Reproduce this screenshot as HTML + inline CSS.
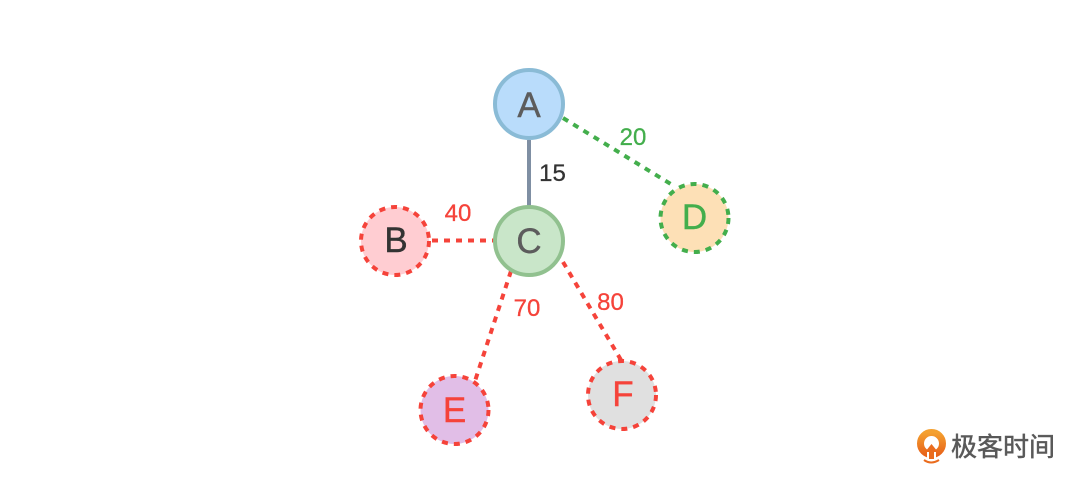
<!DOCTYPE html>
<html>
<head>
<meta charset="utf-8">
<style>
html,body{margin:0;padding:0;background:#fff;width:1084px;height:495px;overflow:hidden}
svg{display:block}
text{font-family:"Liberation Sans",Arial,sans-serif}
</style>
</head>
<body>
<svg width="1084" height="495" viewBox="0 0 1084 495" xmlns="http://www.w3.org/2000/svg">
<defs>
<linearGradient id="g" x1="0" y1="0" x2="0" y2="1"><stop offset="0" stop-color="#f4a02f"/><stop offset="1" stop-color="#e8641b"/></linearGradient>
</defs>
<rect width="1084" height="495" fill="#fff"/>
<!-- edges -->
<line x1="529" y1="140" x2="529" y2="206" stroke="#7f8fa3" stroke-width="4"/>
<line x1="563" y1="118" x2="674" y2="186" stroke="#43ae4c" stroke-width="4" stroke-dasharray="6 6"/>
<line x1="432" y1="240.500" x2="495" y2="240.500" stroke="#f5433a" stroke-width="4" stroke-dasharray="6 6"/>
<line x1="511" y1="271" x2="475" y2="381" stroke="#f5433a" stroke-width="4" stroke-dasharray="6 6"/>
<line x1="563" y1="262" x2="621" y2="360" stroke="#f5433a" stroke-width="4" stroke-dasharray="6 6"/>
<!-- nodes -->
<circle cx="529" cy="104" r="34" fill="#b9dcfb" stroke="#8abbd6" stroke-width="4"/>
<circle cx="529" cy="241" r="34" fill="#c9e6c9" stroke="#91c18f" stroke-width="4"/>
<circle cx="395" cy="241" r="34" fill="#ffcdd2" stroke="#f5433a" stroke-width="4" stroke-dasharray="6 6"/>
<circle cx="694.500" cy="218" r="34" fill="#fde0b6" stroke="#43ae4c" stroke-width="4" stroke-dasharray="6 6"/>
<circle cx="454.500" cy="410" r="34" fill="#e1bee7" stroke="#f5433a" stroke-width="4" stroke-dasharray="6 6"/>
<circle cx="622" cy="395" r="34" fill="#e0e0e0" stroke="#f5433a" stroke-width="4" stroke-dasharray="6 6"/>
<!-- node labels -->
<g font-size="35" text-anchor="middle" stroke-width="0.4">
<text x="529" y="117" fill="#5c5c5c" stroke="#5c5c5c">A</text>
<text x="529" y="253" fill="#5c5c5c" stroke="#5c5c5c">C</text>
<text x="396" y="252" fill="#333" stroke="#333">B</text>
<text x="694.500" y="229" fill="#43ae4c" stroke="#43ae4c">D</text>
<text x="454.500" y="422" fill="#f5433a" stroke="#f5433a">E</text>
<text x="623" y="406" fill="#f5433a" stroke="#f5433a">F</text>
</g>
<!-- edge labels -->
<g font-size="24" text-anchor="middle" stroke-width="0.3">
<text x="552.500" y="181" fill="#333" stroke="#333">15</text>
<text x="633" y="145" fill="#43ae4c" stroke="#43ae4c">20</text>
<text x="458" y="221" fill="#f5433a" stroke="#f5433a">40</text>
<text x="527" y="316" fill="#f5433a" stroke="#f5433a">70</text>
<text x="610.500" y="310" fill="#f5433a" stroke="#f5433a">80</text>
</g>
<!-- logo -->
<circle cx="931.500" cy="443.500" r="11" fill="none" stroke="url(#g)" stroke-width="7"/>
<rect x="927" y="450" width="9" height="9" fill="#fff"/>
<path d="M931.500 444 L925 452 L929 452 L929 459 L934 459 L934 452 L938 452 Z" fill="#ea6c1e"/>
<path d="M924 460 Q931 465 939 460" fill="none" stroke="#ea6c1e" stroke-width="2"/>
<text x="951" y="456" font-size="26" fill="#595959" stroke="#595959" stroke-width="0.5" style='font-family:"Liberation Sans","Noto Sans CJK SC",sans-serif'>极客时间</text>
</svg>
</body>
</html>
